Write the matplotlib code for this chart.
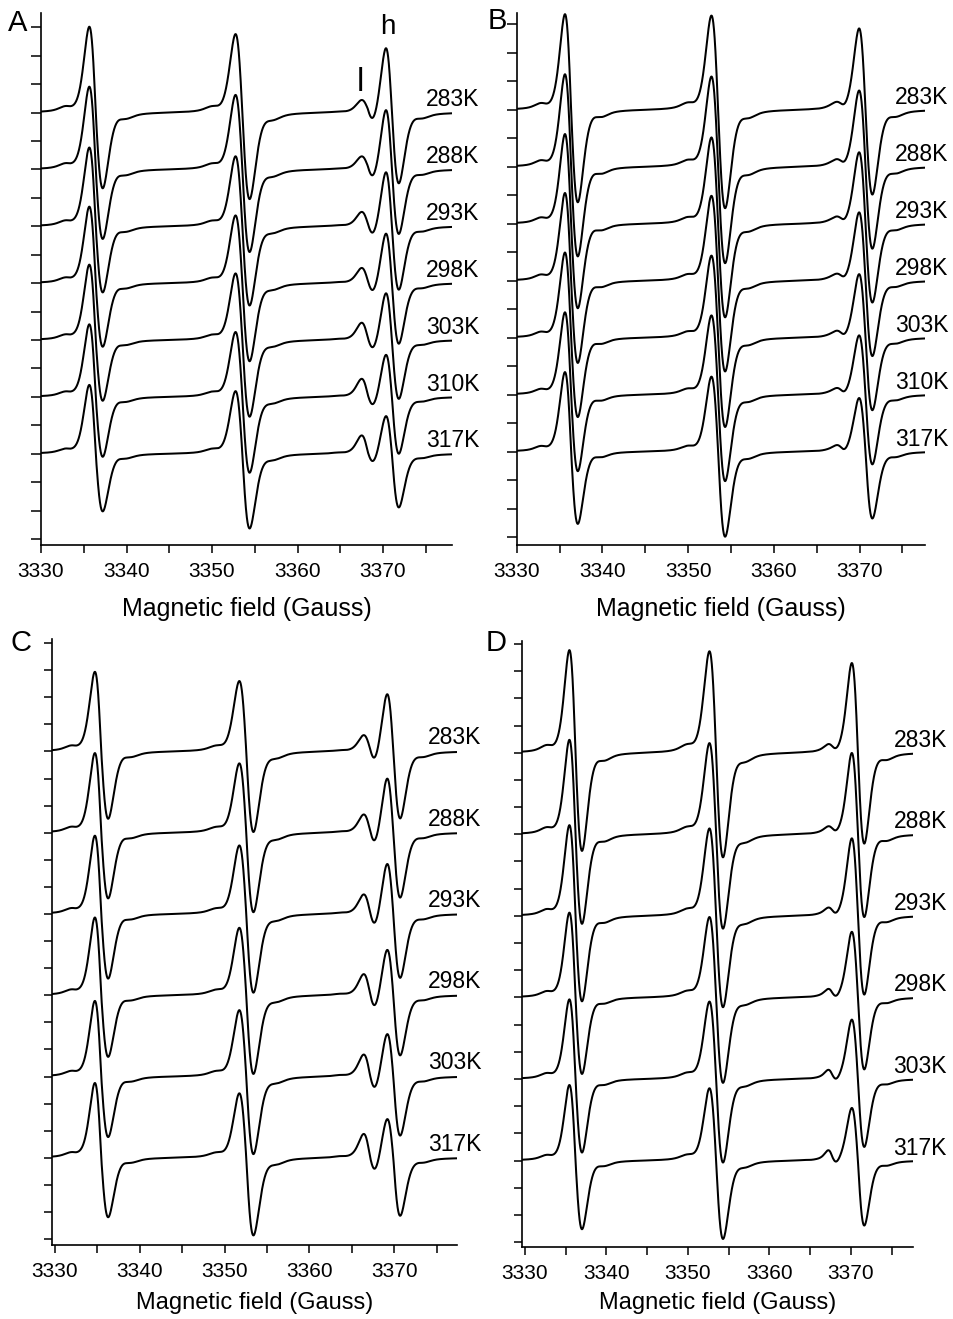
import numpy as np
import matplotlib
matplotlib.use('Agg')
from matplotlib import pyplot as plt
from matplotlib.ticker import MultipleLocator

plt.rcParams['font.family'] = ['Liberation Sans', 'DejaVu Sans']

# ---------------- values ----------------
temps_AB = ['283K', '288K', '293K', '298K', '303K', '310K', '317K']
temps_CD = ['283K', '288K', '293K', '298K', '303K', '317K']

# lines: [low field, central, high field "l", high field "h"]
# per line: zero crossing (G), left/right half widths (G)
A_center = [3336.4, 3353.55, 3368.2, 3371.05]
A_wl = [0.75, 0.80, 0.70, 0.72]
A_wr = [0.82, 0.85, 0.75, 0.80]
A_peak = [[3.03, 2.78, 0.28, 2.36],
          [2.92, 2.64, 0.31, 2.18],
          [2.78, 2.48, 0.37, 1.99],
          [2.70, 2.40, 0.41, 1.83],
          [2.66, 2.36, 0.49, 1.73],
          [2.56, 2.30, 0.53, 1.56],
          [2.43, 2.22, 0.55, 1.40]]
A_trough = [[2.68, 3.06, 0.47, 2.46],
            [2.46, 2.92, 0.47, 2.24],
            [2.34, 2.80, 0.46, 2.20],
            [2.25, 2.76, 0.46, 2.10],
            [2.15, 2.71, 0.46, 2.04],
            [2.12, 2.68, 0.44, 1.97],
            [2.04, 2.64, 0.42, 1.86]]

B_center = [3336.35, 3353.5, 3367.9, 3370.7]
B_wl = [0.72, 0.78, 0.50, 0.75]
B_wr = [0.78, 0.82, 0.50, 0.80]
B_peak = [[3.37, 3.33, 0.07, 2.88],
          [3.26, 3.19, 0.07, 2.70],
          [3.16, 3.05, 0.07, 2.53],
          [3.09, 3.00, 0.07, 2.42],
          [3.00, 2.90, 0.08, 2.25],
          [2.90, 2.80, 0.08, 2.10],
          [2.80, 2.65, 0.09, 1.90]]
B_trough = [[3.26, 3.47, 0.07, 2.98],
            [3.16, 3.40, 0.07, 2.88],
            [2.98, 3.30, 0.07, 2.77],
            [2.90, 3.20, 0.07, 2.65],
            [2.80, 3.15, 0.08, 2.55],
            [2.70, 3.05, 0.08, 2.45],
            [2.55, 3.00, 0.09, 2.35]]

C_center = [3335.45, 3352.55, 3367.1, 3369.9]
C_wl = [0.75, 0.82, 0.70, 0.75]
C_wr = [0.82, 0.85, 0.72, 0.80]
C_peak = [[2.95, 2.62, 0.44, 2.22],
          [2.95, 2.58, 0.52, 2.11],
          [2.90, 2.55, 0.58, 1.96],
          [2.88, 2.51, 0.65, 1.79],
          [2.80, 2.47, 0.69, 1.68],
          [2.77, 2.40, 0.77, 1.54]]
C_trough = [[2.50, 2.99, 0.55, 2.44],
            [2.44, 2.95, 0.59, 2.36],
            [2.40, 2.92, 0.61, 2.32],
            [2.29, 2.92, 0.63, 2.18],
            [2.25, 2.88, 0.63, 2.14],
            [2.21, 2.88, 0.63, 2.10]]

D_center = [3336.2, 3353.45, 3367.7, 3370.85]
D_wl = [0.75, 0.82, 0.50, 0.75]
D_wr = [0.80, 0.85, 0.50, 0.78]
D_peak = [[3.79, 3.76, 0.08, 3.32],
          [3.49, 3.38, 0.08, 3.01],
          [3.35, 3.24, 0.10, 2.87],
          [3.13, 2.98, 0.14, 2.43],
          [2.94, 2.87, 0.18, 2.20],
          [2.79, 2.68, 0.24, 1.95]]
D_trough = [[3.63, 3.87, 0.08, 3.35],
            [3.31, 3.49, 0.08, 3.05],
            [3.16, 3.38, 0.10, 2.90],
            [2.83, 3.16, 0.12, 2.65],
            [2.72, 3.09, 0.15, 2.50],
            [2.54, 2.90, 0.18, 2.39]]

x_ticks = [3330, 3340, 3350, 3360, 3370]

ETA = 0.40        # lorentzian share of the line shape
SAT_SHIFT = 3.0   # 13C satellites
SAT_AMP = 0.03


def deriv_shape(u):
    # derivative line shape, extremes +-1 at u = -+1
    g = u * np.exp(0.5 * (1 - u ** 2))
    v = u / np.sqrt(3)
    lo = (2 * v / (1 + v ** 2) ** 2) / 0.649519
    return (1 - ETA) * g + ETA * lo


def line(x, x0, wl, wr, peak, trough):
    d = x - x0
    return np.where(d < 0, -peak * deriv_shape(d / wl), -trough * deriv_shape(d / wr))


def spectrum(x, centers, wl, wr, peaks, troughs):
    y = np.zeros_like(x)
    for c, a, b, p, t in zip(centers, wl, wr, peaks, troughs):
        y += line(x, c, a, b, p, t)
        for s in (-SAT_SHIFT, SAT_SHIFT):
            y += SAT_AMP * line(x, c + s, a, b, p, t)
    return y


fig = plt.figure(figsize=(9.54, 13.19), dpi=100)

panels = [
    # letter, box (px), xlim, ylim, n ticks, temps, first baseline, step, data,
    # label x, label dy, letter position (px), xlabel size, labelpad
    ('A', [41, 13, 452, 545], (3330, 3378.07), (-0.21, 18.5), 18, temps_AB, 15, 2,
     (A_center, A_wl, A_wr, A_peak, A_trough), 3375.0, 0.22, (8, 31), 18, 12),
    ('B', [516.7, 13, 925, 545], (3330, 3377.64), (-0.28, 18.4), 18, temps_AB, 15, 2,
     (B_center, B_wl, B_wr, B_peak, B_trough), 3374.1, 0.2, (488, 29), 18, 12),
    ('C', [51.7, 639, 457, 1245], (3329.61, 3377.4), (-0.22, 22.15), 22, temps_CD, 18, 3,
     (C_center, C_wl, C_wr, C_peak, C_trough), 3374.0, 0.26, (10, 651), 17, 8),
    ('D', [521.7, 641, 912.7, 1247], (3329.6, 3377.57), (-0.18, 22.11), 22, temps_CD, 18, 3,
     (D_center, D_wl, D_wr, D_peak, D_trough), 3375.2, 0.22, (486, 651), 17, 7),
]

W, H = 954.0, 1319.0
for (letter, box, xlim, ylim, ntick, temps, base0, step, data,
     lab_x, lab_dy, lpos, xlab_fs, lpad) in panels:
    x0, y0, x1, y1 = box
    ax = fig.add_axes([x0 / W, 1 - y1 / H, (x1 - x0) / W, (y1 - y0) / H])
    centers, wl, wr, peaks, troughs = data
    field = np.linspace(xlim[0], xlim[1], 3000)
    for i, t in enumerate(temps):
        base = base0 - step * i
        y = base + spectrum(field, centers, wl, wr, peaks[i], troughs[i])
        ax.plot(field, y, color='black', lw=1.45, solid_joinstyle='round')
        ax.text(lab_x, base + lab_dy, t, fontsize=16.5, ha='left', va='baseline',
                clip_on=False)
    ax.set_xlim(*xlim)
    ax.set_ylim(*ylim)
    ax.set_xticks(x_ticks)
    ax.xaxis.set_minor_locator(MultipleLocator(5))
    ax.set_yticks(np.arange(0, ntick + 1))
    ax.set_yticklabels([])
    ax.tick_params(axis='x', which='both', direction='out', length=6, width=1.1,
                   labelsize=15, pad=6)
    ax.tick_params(axis='y', direction='out', length=7 if ntick == 18 else 6, width=1.1)
    for s in ('top', 'right'):
        ax.spines[s].set_visible(False)
    for s in ('left', 'bottom'):
        ax.spines[s].set_linewidth(1.2)
    ax.set_xlabel('Magnetic field (Gauss)', fontsize=xlab_fs, labelpad=lpad)
    fig.text(lpos[0] / W, 1 - lpos[1] / H, letter, fontsize=21, ha='left', va='baseline')
    if letter == 'A':
        ax.text(3370.6, 17.75, 'h', fontsize=20, ha='center', va='baseline')
        ax.text(3367.4, 15.75, 'l', fontsize=24, ha='center', va='baseline')

fig.savefig('out.png', dpi=100)
